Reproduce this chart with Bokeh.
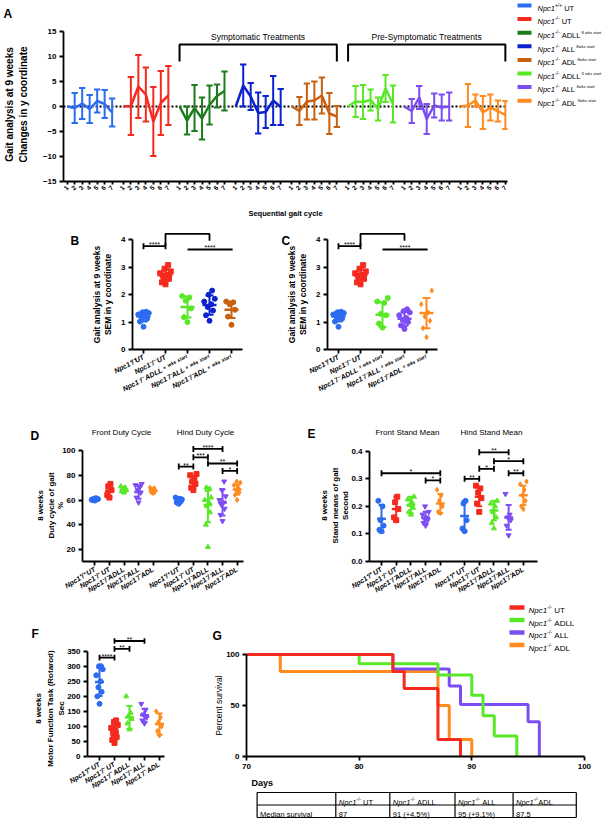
import math
from bokeh.plotting import figure
from bokeh.layouts import row, column
from bokeh.models import Range1d, FixedTicker, CustomJSTickFormatter, PrintfTickFormatter, Label, GridBox
from bokeh.embed import file_html
from bokeh.resources import INLINE

FONT = "Liberation Sans"
PI = math.pi
PAGE_W, PAGE_H = 608, 824

# ---------------- colours ----------------
WT_BLUE = "#2d6cf0"
UT_RED = "#f52a1f"
ADLL8_GREEN = "#1d7d1d"
ALL8_BLUE = "#0c22cf"
ADL8_BROWN = "#c8600f"
GREEN = "#58e825"
PURPLE = "#7c4df3"
ORANGE = "#ff8a1e"

# ---------------- Panel A data ----------------
gait_cycle = [1, 2, 3, 4, 5, 6, 7]
a_wt_mean = [0, -0.3, 0.6, -0.5, 1.1, 0.5, -1.2]
a_wt_sd = [0, 3.0, 3.1, 2.8, 2.3, 2.8, 2.8]
a_ut_mean = [0, 0.1, 4.0, 2.4, -3.0, 0.7, 2.2]
a_ut_sd = [0, 5.8, 6.3, 5.4, 6.9, 6.4, 5.9]
a_adll8_mean = [0, -2.8, -0.3, -2.4, 0.3, 2.1, 3.1]
a_adll8_sd = [0, 2.8, 4.6, 4.2, 3.9, 2.3, 3.9]
a_all8_mean = [0, 4.2, 2.0, -1.3, -1.1, 1.2, -0.1]
a_all8_sd = [0, 4.2, 2.7, 4.1, 3.2, 4.9, 3.6]
a_adl8_mean = [0, -0.9, 1.0, 1.2, 2.2, -1.4, -2.0]
a_adl8_sd = [0, 2.8, 3.6, 3.8, 3.6, 4.1, 2.1]
a_adll3_mean = [0, 1.0, 0.9, 1.3, -0.5, 3.6, 0.5]
a_adll3_sd = [0, 3.1, 3.4, 2.1, 2.3, 2.7, 3.7]
a_all3_mean = [0, -0.9, 1.8, -2.5, 0.2, -0.2, 0.0]
a_all3_sd = [0, 2.4, 2.3, 3.0, 2.4, 2.6, 2.8]
a_adl3_mean = [0, 0.2, 1.2, -1.2, -0.2, -0.9, -1.7]
a_adl3_sd = [0, 4.3, 1.2, 3.3, 2.6, 2.1, 2.8]
a_colors = [WT_BLUE, UT_RED, ADLL8_GREEN, ALL8_BLUE, ADL8_BROWN, GREEN, PURPLE, ORANGE]
a_geno = ["+/+", "-/-", "-/-", "-/-", "-/-", "-/-", "-/-", "-/-"]
a_treat = ["UT", "UT", "ADLL", "ALL", "ADL", "ADLL", "ALL", "ADL"]
a_start = ["", "", "8 wks start", "8wks start", "8wks start", "3 wks start", "3wks start", "3wks start"]
a_brackets = ["Symptomatic Treatments", "Pre-Symptomatic Treatments"]
a_bracket_groups = [(2, 4), (5, 7)]

# ---------------- Panel B / C data ----------------
b_labels = ["Npc1⁺/⁺UT", "Npc1⁻/⁻ UT", "Npc1⁻/⁻ ADLL ⁸ ʷᵏˢ ˢᵗᵃʳᵗ", "Npc1⁻/⁻ALL ⁸ ʷᵏˢ ˢᵗᵃʳᵗ", "Npc1⁻/⁻ADL ⁸ ʷᵏˢ ˢᵗᵃʳᵗ"]
c_labels = ["Npc1⁺/⁺UT", "Npc1⁻/⁻ UT", "Npc1⁻/⁻ ADLL ³ ʷᵏˢ ˢᵗᵃʳᵗ", "Npc1⁻/⁻ALL ³ ʷᵏˢ ˢᵗᵃʳᵗ", "Npc1⁻/⁻ADL ³ ʷᵏˢ ˢᵗᵃʳᵗ"]
bc_wt = [0.83, 1.02, 1.12, 1.18, 1.22, 1.28, 1.33, 1.36, 1.38, 1.25]
bc_ut = [2.38, 2.45, 2.58, 2.65, 2.72, 2.78, 2.85, 2.95, 3.08, 2.7]
b_adll8 = [1.0, 1.18, 1.5, 1.78, 1.9, 1.95]
b_all8 = [1.05, 1.25, 1.42, 1.55, 1.65, 1.75, 1.85, 2.0, 2.15]
b_adl8 = [0.9, 1.2, 1.45, 1.65, 1.72, 1.75]
c_adll3 = [0.8, 0.95, 1.25, 1.3, 1.7, 1.75, 1.88]
c_all3 = [0.75, 0.88, 1.0, 1.08, 1.15, 1.25, 1.35, 1.4, 1.47]
c_adl3 = [0.45, 0.78, 1.05, 1.2, 1.35, 1.65, 2.15]
b_mean = [1.2, 2.72, 1.55, 1.62, 1.45]
b_sd = [0.18, 0.2, 0.38, 0.35, 0.3]
c_mean = [1.2, 2.72, 1.27, 1.12, 1.33]
c_sd = [0.18, 0.2, 0.45, 0.25, 0.55]

# ---------------- Panel D data ----------------
de_labels = ["Npc1⁺/⁺ UT", "Npc1⁻/⁻ UT", "Npc1⁻/⁻ADLL", "Npc1⁻/⁻ALL", "Npc1⁻/⁻ADL"]
d_front = [[59.5, 60, 60.5, 61, 61.5, 60.2, 60.8], [62, 64, 68, 71, 73], [66, 67, 68, 69, 70, 71],
           [58, 62, 66, 68, 70, 72, 73], [65.5, 66.5, 67.5, 68.5, 69.5, 70]]
d_front_mean = [60.5, 67.5, 68.5, 66.5, 67.5]
d_front_sd = [0.8, 5, 2, 5.5, 2]
d_hind = [[57, 58, 59, 60, 61, 62, 60.5], [68, 70, 73, 75, 77, 80, 81], [22, 40, 50, 55, 58, 60, 62, 68, 69, 70],
          [43, 48, 53, 56, 58, 60, 63, 68, 75], [60, 64, 66, 68, 70, 72, 74, 75]]
d_hind_mean = [60, 74.5, 56, 58, 68.5]
d_hind_sd = [1.8, 5, 14, 10.5, 4]
d_sig_pairs = [(5, 6), (6, 8), (6, 7), (7, 9), (8, 9)]
d_sig_y = [87, 101.3, 94.5, 89.5, 83.5]
d_sig_text = ["**", "****", "***", "**", "*"]

# ---------------- Panel E data ----------------
e_front = [[0.11, 0.115, 0.13, 0.15, 0.2, 0.22], [0.15, 0.16, 0.19, 0.215, 0.235],
           [0.17, 0.18, 0.195, 0.205, 0.215, 0.225, 0.235], [0.13, 0.14, 0.15, 0.155, 0.16, 0.17, 0.18, 0.2],
           [0.175, 0.18, 0.2, 0.22, 0.24, 0.26]]
e_front_mean = [0.155, 0.19, 0.205, 0.158, 0.21]
e_front_sd = [0.05, 0.045, 0.03, 0.022, 0.035]
e_hind = [[0.11, 0.12, 0.15, 0.21, 0.22], [0.18, 0.21, 0.23, 0.25, 0.265, 0.275],
          [0.12, 0.14, 0.16, 0.18, 0.2, 0.21, 0.22], [0.095, 0.13, 0.15, 0.16, 0.17, 0.245],
          [0.19, 0.2, 0.22, 0.24, 0.26, 0.28, 0.29]]
e_hind_mean = [0.165, 0.235, 0.185, 0.16, 0.24]
e_hind_sd = [0.055, 0.035, 0.035, 0.045, 0.035]
e_sig_pairs = [(0, 4), (3, 4), (5, 6), (6, 8), (6, 7), (7, 9), (8, 9)]
e_sig_y = [0.32, 0.294, 0.30, 0.396, 0.336, 0.364, 0.32]
e_sig_text = ["*", "*", "**", "**", "*", "*", "**"]

# ---------------- Panel F data ----------------
f_labels = ["Npc1⁺/⁺ UT", "Npc1⁻/⁻ UT", "Npc1⁻/⁻ ADLL", "Npc1⁻/⁻ ALL", "Npc1⁻/⁻ ADL"]
f_pts = [[175, 200, 215, 230, 250, 270, 290, 300, 300], [45, 55, 65, 75, 85, 95, 105, 115, 120],
         [90, 110, 125, 135, 145, 200], [110, 120, 130, 140, 155, 175], [70, 85, 100, 115, 130, 150]]
f_mean = [248, 80, 130, 137, 108]
f_sd = [47, 28, 38, 22, 35]
f_sig_pairs = [(0, 1), (1, 2), (1, 3)]
f_sig_y = [329, 358, 384]
f_sig_text = ["****", "**", "**"]

# ---------------- Panel G data ----------------
g_names = ["UT", "ADLL", "ALL", "ADL"]
g_colors = [UT_RED, GREEN, PURPLE, ORANGE]
g_ut_days = [70, 83, 84, 87, 89]
g_ut_surv = [100, 83.3, 66.7, 16.7, 0]
g_adll_days = [70, 80, 87, 90, 91, 92, 94]
g_adll_surv = [100, 90.9, 80, 60, 40, 20, 0]
g_all_days = [70, 83, 88, 89, 95, 96]
g_all_surv = [100, 85.7, 69, 51, 34, 0]
g_adl_days = [70, 73, 87, 88, 90]
g_adl_surv = [100, 83.3, 50, 16.7, 0]
median_survival = ["87", "91 (+4.5%)", "95 (+9.1%)", "87.5"]

# ---------------- helpers ----------------
CW = {' ': 278, 'N': 722, 'p': 556, 'c': 500, '1': 556, '+': 584, '/': 278, '-': 333, 'U': 722, 'T': 611,
      'A': 667, 'D': 722, 'L': 556, 'w': 722, 'k': 500, 's': 500, 't': 278, 'a': 556, 'r': 333, 'M': 833,
      'e': 556, 'd': 556, 'i': 222, 'n': 556, 'u': 556, 'v': 500, 'l': 222, '(': 333, ')': 333, '%': 889,
      '.': 278}


def tw(s, size):
    return sum(CW.get(ch, 556) for ch in s) * size / 1000.0


class Panel:
    def __init__(self, fx, fy, w, h, fl, fr, ft, fb, xa, xs, ya, ys):
        self.fx, self.fy, self.w, self.h = fx, fy, w, h
        self.fl, self.fr, self.ft, self.fb = fl, fr, ft, fb
        self.xa, self.xs, self.ya, self.ys = xa, xs, ya, ys

    def dx(self, X):
        return self.xa[0] + (X - self.xa[1]) / self.xs

    def dy(self, Y):
        return self.ya[0] + (self.ya[1] - Y) / self.ys

    def fig(self):
        p = figure(width=self.w, height=self.h,
                   x_range=Range1d(self.dx(self.fl), self.dx(self.fr)),
                   y_range=Range1d(self.dy(self.fb), self.dy(self.ft)),
                   output_backend="svg", toolbar_location=None,
                   min_border_left=self.fl - self.fx, min_border_right=self.fx + self.w - self.fr,
                   min_border_top=self.ft - self.fy, min_border_bottom=self.fy + self.h - self.fb)
        p.outline_line_color = None
        for g in p.grid:
            g.visible = False
        for ax in p.axis:
            ax.axis_line_width = 1.8
            ax.axis_line_color = "black"
            ax.major_tick_line_width = 1.8
            ax.major_tick_line_color = "black"
            ax.major_tick_out = 4
            ax.major_tick_in = 0
            ax.minor_tick_line_color = None
            ax.major_label_text_font = FONT
            ax.major_label_text_font_style = "bold"
            ax.major_label_text_font_size = "8px"
            ax.major_label_text_color = "black"
            ax.major_label_standoff = 3
        return p


def cat_axis(p, positions, labels, angle, size="7px"):
    p.xaxis.ticker = FixedTicker(ticks=positions)
    p.xaxis.formatter = CustomJSTickFormatter(args=dict(pos=positions, labs=labels), code="""
        let best = 0, d = 1e9;
        for (let k = 0; k < pos.length; k++) { const e = Math.abs(pos[k] - tick); if (e < d) { d = e; best = k; } }
        return labs[best];""")
    p.xaxis.major_label_orientation = angle
    p.xaxis.major_label_text_font_style = "bold italic"
    p.xaxis.major_label_text_font_size = size


JIT = [0.0, -0.16, 0.16, -0.08, 0.08, -0.24, 0.24, -0.04, 0.12, -0.12]


def dots(p, x, pts, mean, sd, color, marker, jscale=1.0, mw=0.3, cw=0.17, size=5):
    xs = [x + jscale * JIT[k % len(JIT)] for k in range(len(pts))]
    p.scatter(xs, pts, marker=marker, size=size, fill_color=color, line_color=color)
    p.segment([x], [mean - sd], [x], [mean + sd], line_color=color, line_width=2)
    p.segment([x - cw, x - cw], [mean - sd, mean + sd], [x + cw, x + cw], [mean - sd, mean + sd],
              line_color=color, line_width=2)
    p.segment([x - mw], [mean], [x + mw], [mean], line_color=color, line_width=2.5)


def sig(p, P, x1, x2, y, text, ticks=True, size=7):
    p.segment([x1], [y], [x2], [y], line_color="black", line_width=1.8)
    if ticks:
        d = 3.0 / P.ys
        p.segment([x1, x2], [y - d, y - d], [x1, x2], [y + d, y + d], line_color="black", line_width=1.8)
    p.add_layout(Label(x=(x1 + x2) / 2.0, y=y + 1.5 / P.ys, text=text, text_font=FONT,
                       text_font_size=f"{size}px", text_align="center", text_baseline="alphabetic",
                       text_color="black"))


# ---------------- overlay (free texts, legends, table) ----------------
ov = figure(width=PAGE_W, height=PAGE_H, x_range=Range1d(0, PAGE_W), y_range=Range1d(0, PAGE_H),
            output_backend="svg", toolbar_location=None, x_axis_location=None, y_axis_location=None,
            min_border_left=0, min_border_right=0, min_border_top=0, min_border_bottom=0)
ov.outline_line_color = None
ov.background_fill_color = None
ov.border_fill_color = None
for g in ov.grid:
    g.visible = False


def oy(Y):
    return PAGE_H - Y


def otext(X, Y, text, size, style="normal", align="left", baseline="middle", angle=0.0):
    ov.add_layout(Label(x=X, y=oy(Y), text=text, text_font=FONT, text_font_size=f"{size}px",
                        text_font_style=style, text_align=align, text_baseline=baseline, angle=angle,
                        text_color="black"))


def orich(X, Y, parts):
    x = X
    for text, size, style, dy in parts:
        lead = len(text) - len(text.lstrip(" "))
        x += lead * 0.278 * size
        t = text.strip(" ")
        ov.add_layout(Label(x=x, y=oy(Y) + dy, text=t, text_font=FONT, text_font_size=f"{size}px",
                            text_font_style=style, text_align="left", text_baseline="alphabetic",
                            text_color="black"))
        x += tw(t, size)


def geno_parts(geno, rest, extra="", size=7.5):
    parts = [("Npc1", size, "italic", 0), (geno, size * 0.65, "normal", size * 0.4), (rest, size, "normal", 0)]
    if extra:
        parts.append((" " + extra, size * 0.55, "normal", size * 0.4))
    return parts


def oline(X0, X1, Y, color, width):
    ov.line([X0, X1], [oy(Y), oy(Y)], line_color=color, line_width=width)


# ================= Panel A =================
PA = Panel(0, 0, 608, 228, 63, 507, 0, 181, (0, 66.7), 3.745, (-15, 181), 5.0)
pa = PA.fig()
a_means = [a_wt_mean, a_ut_mean, a_adll8_mean, a_all8_mean, a_adl8_mean, a_adll3_mean, a_all3_mean, a_adl3_mean]
a_sds = [a_wt_sd, a_ut_sd, a_adll8_sd, a_all8_sd, a_adl8_sd, a_adll3_sd, a_all3_sd, a_adl3_sd]
a_pos = [[15 * g + 2 * (c - 1) for c in gait_cycle] for g in range(len(a_means))]
pa.line([PA.dx(63), PA.dx(507)], [0, 0], line_color="black", line_width=2, line_dash="2 2")
for g in range(len(a_means)):
    xs, m, s, col = a_pos[g], a_means[g], a_sds[g], a_colors[g]
    idx = [i for i in range(len(xs)) if s[i] > 0]
    bx = [xs[i] for i in idx]
    lo = [m[i] - s[i] for i in idx]
    hi = [m[i] + s[i] for i in idx]
    pa.segment(bx, lo, bx, hi, line_color=col, line_width=2)
    pa.segment([x - 0.85 for x in bx] * 2, lo + hi, [x + 0.85 for x in bx] * 2, lo + hi, line_color=col, line_width=2)
    pa.line(xs, m, line_color=col, line_width=2.5)
for (g0, g1), txt in zip(a_bracket_groups, a_brackets):
    x0, x1 = a_pos[g0][0], a_pos[g1][-1]
    pa.line([x0, x0, x1, x1], [9.0, 12.4, 12.4, 9.0], line_color="black", line_width=2)
    pa.add_layout(Label(x=(x0 + x1) / 2.0, y=14.0, text=txt, text_font=FONT, text_font_size="8.5px",
                        text_align="center", text_baseline="middle", text_color="black"))
pa.yaxis.ticker = FixedTicker(ticks=[-15, -10, -5, 0, 5, 10, 15])
pa.yaxis.bounds = (-15, 15)
pa.xaxis.ticker = FixedTicker(ticks=[x for grp in a_pos for x in grp])
pa.xaxis.formatter = CustomJSTickFormatter(code="return String(Math.round((tick % 15) / 2) + 1);")
pa.xaxis.major_label_orientation = PI / 4
pa.xaxis.major_label_text_font_size = "6.5px"
pa.xaxis.major_tick_out = 3
pa.xaxis.major_label_standoff = 2
otext(3, 13, "A", 12, "bold")
otext(9, 104, "Gait analysis at 9 weeks", 10, "bold", "center", "middle", PI / 2)
otext(23, 104, "Changes in y coordinate", 10, "bold", "center", "middle", PI / 2)
otext(285, 213, "Sequential gait cycle", 7.5, "bold", "center", "middle")
for k in range(len(a_colors)):
    Y = 5 + 13.6 * k
    oline(517, 531, Y, a_colors[k], 4)
    orich(537, Y + 2.7, geno_parts(a_geno[k], " " + a_treat[k], a_start[k], 7.5))

# ================= Panel B =================
PB = Panel(0, 228, 288, 197, 132, 242, 228, 349, (0, 143), 22.0, (0, 349), 27.4)
pb = PB.fig()
b_pts = [bc_wt, bc_ut, b_adll8, b_all8, b_adl8]
b_cols = [WT_BLUE, UT_RED, GREEN, ALL8_BLUE, ADL8_BROWN]
b_marks = ["circle", "square", "circle", "circle", "circle"]
for i in range(5):
    dots(pb, i, b_pts[i], b_mean[i], b_sd[i], b_cols[i], b_marks[i], 1.0, 0.32, 0.18, 5)
sig(pb, PB, 0, 1, 3.77, "****")
pb.line([1, 1, 3, 3], [3.77, 4.22, 4.22, 3.97], line_color="black", line_width=1.8)
sig(pb, PB, 2, 4.05, 3.65, "****", ticks=False)
pb.yaxis.ticker = FixedTicker(ticks=[0, 1, 2, 3, 4])
pb.yaxis.bounds = (0, 4)
cat_axis(pb, [0, 1, 2, 3, 4], b_labels, 0.47)
otext(70, 240, "B", 12, "bold")
otext(96, 294, "Gait analysis at 9 weeks", 8.5, "bold", "center", "middle", PI / 2)
otext(107.5, 294, "SEM in y coordinate", 8.5, "bold", "center", "middle", PI / 2)

# ================= Panel C =================
PC = Panel(288, 228, 320, 197, 327, 437, 228, 349, (0, 338), 22.0, (0, 349), 27.4)
pc = PC.fig()
c_pts = [bc_wt, bc_ut, c_adll3, c_all3, c_adl3]
c_cols = [WT_BLUE, UT_RED, GREEN, PURPLE, ORANGE]
c_marks = ["circle", "square", "circle", "circle", "diamond"]
for i in range(5):
    dots(pc, i, c_pts[i], c_mean[i], c_sd[i], c_cols[i], c_marks[i], 1.0, 0.32, 0.18, 5)
sig(pc, PC, 0, 1, 3.77, "****")
pc.line([1, 1, 3, 3], [3.77, 4.22, 4.22, 3.97], line_color="black", line_width=1.8)
sig(pc, PC, 2, 4.05, 3.65, "****", ticks=False)
pc.yaxis.ticker = FixedTicker(ticks=[0, 1, 2, 3, 4])
pc.yaxis.bounds = (0, 4)
cat_axis(pc, [0, 1, 2, 3, 4], c_labels, 0.47)
otext(281, 240, "C", 12, "bold")
otext(291, 294, "Gait analysis at 9 weeks", 8.5, "bold", "center", "middle", PI / 2)
otext(302.5, 294, "SEM in y coordinate", 8.5, "bold", "center", "middle", PI / 2)

# ================= Panel D =================
de_cols = [WT_BLUE, UT_RED, GREEN, PURPLE, ORANGE]
de_marks = ["circle", "square", "triangle", "inverted_triangle", "diamond"]
PD = Panel(0, 425, 300, 175, 82, 243, 425, 561, (0, 94.3), 14.6, (20, 549), 1.2375)
pd_ = PD.fig()
d_pos = [0, 1, 2, 3, 4, 5.75, 6.75, 7.75, 8.75, 9.75]
for i in range(5):
    dots(pd_, d_pos[i], d_front[i], d_front_mean[i], d_front_sd[i], de_cols[i], de_marks[i], 0.9, 0.3, 0.2, 5)
    dots(pd_, d_pos[5 + i], d_hind[i], d_hind_mean[i], d_hind_sd[i], de_cols[i], de_marks[i], 0.9, 0.3, 0.2, 5)
for (i, j), y, t in zip(d_sig_pairs, d_sig_y, d_sig_text):
    sig(pd_, PD, d_pos[i], d_pos[j], y, t)
pd_.yaxis.ticker = FixedTicker(ticks=[20, 40, 60, 80, 100])
pd_.yaxis.bounds = (PD.dy(561), 100)
cat_axis(pd_, d_pos, de_labels * 2, 0.55)
otext(121, 432, "Front Duty Cycle", 8, "normal", "center", "middle")
otext(205, 432, "Hind Duty Cycle", 8, "normal", "center", "middle")
otext(30, 435, "D", 12, "bold")
otext(40, 505, "8 weeks", 8, "bold", "center", "middle", PI / 2)
otext(50.5, 505, "Duty cycle of gait", 8, "bold", "center", "middle", PI / 2)
otext(59.5, 505, "%", 8, "bold", "center", "middle", PI / 2)

# ================= Panel E =================
PE = Panel(300, 425, 308, 175, 369, 537, 425, 561, (0, 381), 14.7, (0, 561), 275.75)
pe = PE.fig()
e_pos = [0, 1, 2, 3, 4, 5.65, 6.65, 7.65, 8.65, 9.65]
for i in range(5):
    dots(pe, e_pos[i], e_front[i], e_front_mean[i], e_front_sd[i], de_cols[i], de_marks[i], 0.9, 0.3, 0.2, 5)
    dots(pe, e_pos[5 + i], e_hind[i], e_hind_mean[i], e_hind_sd[i], de_cols[i], de_marks[i], 0.9, 0.3, 0.2, 5)
for (i, j), y, t in zip(e_sig_pairs, e_sig_y, e_sig_text):
    sig(pe, PE, e_pos[i], e_pos[j], y, t)
pe.yaxis.ticker = FixedTicker(ticks=[0.0, 0.1, 0.2, 0.3, 0.4])
pe.yaxis.formatter = PrintfTickFormatter(format="%.1f")
pe.yaxis.bounds = (0, 0.4)
cat_axis(pe, e_pos, de_labels * 2, 0.55)
otext(407, 432, "Front Stand Mean", 8, "normal", "center", "middle")
otext(491, 432, "Hind Stand Mean", 8, "normal", "center", "middle")
otext(307, 433, "E", 12, "bold")
otext(324, 505, "8 weeks", 8, "bold", "center", "middle", PI / 2)
otext(334.5, 505, "Stand means of gait", 8, "bold", "center", "middle", PI / 2)
otext(345, 505, "Second", 8, "bold", "center", "middle", PI / 2)

# ================= Panel F =================
PF = Panel(0, 600, 196, 224, 87, 164, 600, 763, (0, 99), 15.0, (0, 763), 110.0 / 350.0)
pf = PF.fig()
for i in range(5):
    dots(pf, i, f_pts[i], f_mean[i], f_sd[i], de_cols[i], de_marks[i], 0.9, 0.3, 0.2, 5)
for (i, j), y, t in zip(f_sig_pairs, f_sig_y, f_sig_text):
    sig(pf, PF, i, j, y, t)
pf.yaxis.ticker = FixedTicker(ticks=[0, 50, 100, 150, 200, 250, 300, 350])
pf.yaxis.bounds = (0, 350)
cat_axis(pf, [0, 1, 2, 3, 4], f_labels, 0.55)
otext(31, 633, "F", 12, "bold")
otext(38, 708, "8 weeks", 8, "bold", "center", "middle", PI / 2)
otext(49.5, 708, "Motor Function Task (Rotarod)", 8, "bold", "center", "middle", PI / 2)
otext(60.5, 708, "Sec", 8, "bold", "center", "middle", PI / 2)

# ================= Panel G =================
PG = Panel(196, 600, 412, 224, 246, 590, 600, 756, (70, 246), 11.263, (0, 756), 1.02)
pg = PG.fig()
g_days = [g_ut_days, g_adll_days, g_all_days, g_adl_days]
g_surv = [g_ut_surv, g_adll_surv, g_all_surv, g_adl_surv]
for k in [3, 2, 1, 0]:
    pg.step(g_days[k], g_surv[k], mode="after", line_color=g_colors[k], line_width=3)
pg.xaxis.ticker = FixedTicker(ticks=[70, 80, 90, 100])
pg.xaxis.bounds = (70, 100)
pg.yaxis.ticker = FixedTicker(ticks=[0, 50, 100])
pg.yaxis.bounds = (0, 100)
otext(212, 635, "G", 12, "bold")
otext(218, 705, "Percent survival", 8.5, "normal", "center", "middle", PI / 2)
otext(251, 782, "Days", 9, "bold")
for k in range(4):
    Y = 607 + 12.5 * k
    oline(509, 524, Y, g_colors[k], 4.5)
    orich(528, Y + 3, geno_parts("-/-", " " + g_names[k], "", 8))

# survival table (overlay)
t_cols = [256.6, 335.3, 389.3, 454.5, 512.6, 575.8]
t_rows = [792, 804.5, 817]
for r in t_rows:
    ov.line([t_cols[0], t_cols[-1]], [oy(r), oy(r)], line_color="black", line_width=1.2)
for c in t_cols:
    ov.line([c, c], [oy(t_rows[0]), oy(t_rows[-1])], line_color="black", line_width=1.2)
for k in range(4):
    rest = ("" if g_names[k] == "ADL" else " ") + g_names[k]
    orich(t_cols[k + 1] + 3, 801.5, geno_parts("-/-", rest, "", 7.5))
    orich(t_cols[k + 1] + 3, 814, [(median_survival[k], 7.5, "normal", 0)])
orich(t_cols[0] + 3, 814, [("Median survival", 7.5, "normal", 0)])

main = column(pa, row(pb, pc), row(pd_, pe), row(pf, pg))
layout = GridBox(children=[(main, 0, 0), (ov, 0, 0)])
open("out.html", "w").write(file_html(layout, INLINE))
